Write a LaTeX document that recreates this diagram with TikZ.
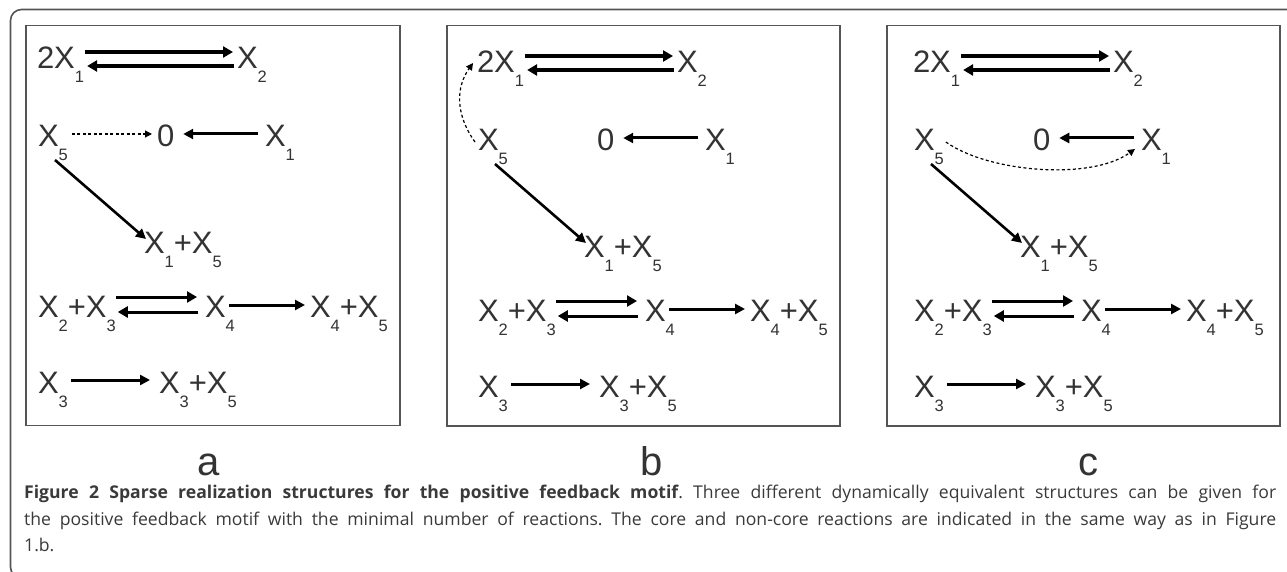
\documentclass[tikz,border=0pt]{standalone}
\usepackage{fontspec}
\setmainfont{Liberation Sans}
\newfontfamily\capfont{Open Sans}
\usetikzlibrary{arrows.meta}
\definecolor{txt}{HTML}{333333}
\definecolor{frm}{HTML}{555555}
\definecolor{captxt}{HTML}{3A3A3A}
\newcommand\sbs[1]{\raisebox{-14pt}{\fontsize{16.5}{16.5}\selectfont #1}}
\tikzset{
  sp/.style={inner sep=0pt, outer sep=0pt, anchor=base west, text=txt, font=\fontsize{31}{31}\selectfont},
  arr/.style={line width=3pt, -{Triangle[length=10pt,width=10pt]}},
  darr/.style={line width=3.5pt, -{Triangle[length=10pt,width=11pt]}},
  dsh/.style={line width=1.2pt, dash pattern=on 3pt off 2.5pt, -{Triangle[length=7pt,width=7pt]}},
  panelbox/.style={draw=frm, line width=1.4pt},
  lbl/.style={text=txt, font=\fontsize{40}{40}\selectfont, inner sep=0pt}
}
\newcommand\panelcontent[1]{%
  \node[sp] (#1a) at (37,69) {2X\sbs{1}};
  \node[sp] (#1b) at (237,69) {X\sbs{2}};
  \draw[darr] ([xshift=1pt,yshift=17pt]#1a.base east) -- ([xshift=-4pt,yshift=17pt]#1b.base west);
  \draw[darr] ([xshift=-3pt,yshift=3pt]#1b.base west) -- ([xshift=3pt,yshift=3pt]#1a.base east);
  \node[sp] (#1c) at (38,147) {X\sbs{5}};
  \node[sp] (#1d) at (157,147) {0};
  \node[sp] (#1e) at (265,147) {X\sbs{1}};
  \draw[arr] ([xshift=-7pt,yshift=13pt]#1e.base west) -- ([xshift=9pt,yshift=13pt]#1d.base east);
  \node[sp] (#1f) at (144,253) {X\sbs{1}+X\sbs{5}};
  \draw[arr, line width=2.6pt] ([xshift=17pt,yshift=-13pt]#1c.base west) -- ([xshift=2pt,yshift=14pt]#1f.base west);
  \node[sp] (#1g) at (38,317) {X\sbs{2}+X\sbs{3}};
  \node[sp] (#1h) at (205,317) {X\sbs{4}};
  \node[sp] (#1i) at (310,317) {X\sbs{4}+X\sbs{5}};
  \draw[darr, line width=3pt] ([xshift=0pt,yshift=20pt]#1g.base east) -- ([xshift=-8pt,yshift=20pt]#1h.base west);
  \draw[darr, line width=3pt] ([xshift=-7pt,yshift=5pt]#1h.base west) -- ([xshift=2pt,yshift=5pt]#1g.base east);
  \draw[arr] ([xshift=-6pt,yshift=12pt]#1h.base east) -- ([xshift=-5pt,yshift=12pt]#1i.base west);
  \node[sp] (#1j) at (38,393) {X\sbs{3}};
  \node[sp] (#1k) at (159,393) {X\sbs{3}+X\sbs{5}};
  \draw[arr] ([xshift=3pt,yshift=13pt]#1j.base east) -- ([xshift=-9pt,yshift=13pt]#1k.base west);
}
\begin{document}
\begin{tikzpicture}[x=1pt,y=-1pt]
\useasboundingbox (0,0) rectangle (1287,572);
\clip (0,0) rectangle (1287,572);
\fill[white] (0,0) rectangle (1287,572);
% outer frame
\draw[frm, line width=1.6pt, rounded corners=11pt] (1300,9.5) -- (10.5,9.5) -- (10.5,578) -- (40,578);
% panel boxes
\draw[panelbox] (26,25.5) rectangle (400,425.5);
\draw[panelbox] (447,25.5) rectangle (840,426);
\draw[panelbox] (887,25.5) rectangle (1280,426);
% panel a
\begin{scope}
\panelcontent{pa}
\draw[dsh] ([xshift=4pt,yshift=13pt]pac.base east) -- ([xshift=-5pt,yshift=13pt]pad.base west);
\end{scope}
% panel b
\begin{scope}[shift={(440,4)}]
\panelcontent{pb}
\draw[dsh] ([xshift=-3pt,yshift=9pt]pbc.base west) .. controls +(-20,-28) and +(-17,24) .. ([xshift=-4pt,yshift=10pt]pba.base west);
\end{scope}
% panel c
\begin{scope}[shift={(876,4)}]
\panelcontent{pc}
\draw[dsh] ([xshift=2pt,yshift=9pt]pcc.base east) .. controls +(42,30) and +(-45,32) .. ([xshift=-6pt,yshift=2pt]pce.base west);
\end{scope}
% labels
\node[lbl, anchor=base] (la) at (209,475) {a};
\node[lbl, anchor=base] (lb) at (652,475) {b};
\node[lbl, anchor=base] (lc) at (1088,475) {c};
% caption
\node[anchor=north west, inner sep=0pt, text=captxt] (cap) at (24,485)
{\parbox{1252pt}{\capfont\fontsize{17.6}{26.5}\selectfont\frenchspacing\textbf{Figure 2 Sparse realization structures for the positive feedback motif}. Three different dynamically equivalent structures can be given for\linebreak the positive feedback motif with the minimal number of reactions. The core and non-core reactions are indicated in the same way as in Figure\linebreak 1.b.}};
\end{tikzpicture}
\end{document}
